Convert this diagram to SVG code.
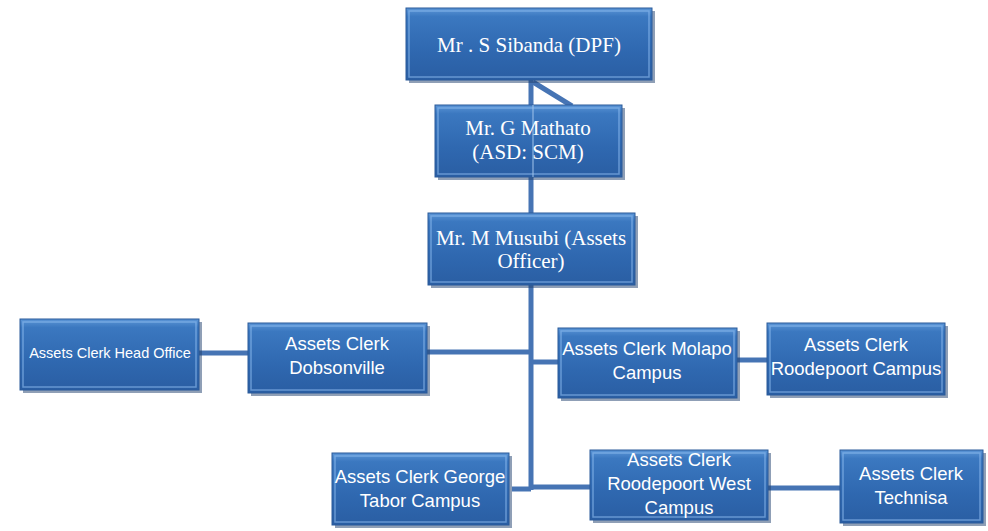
<svg xmlns="http://www.w3.org/2000/svg" width="988" height="531" viewBox="0 0 988 531">
<defs>
<linearGradient id="g" x1="0" y1="0" x2="0" y2="1">
<stop offset="0" stop-color="#5b95d6"/>
<stop offset="0.12" stop-color="#3b78c0"/>
<stop offset="0.6" stop-color="#2f68b0"/>
<stop offset="1" stop-color="#2a5ea3"/>
</linearGradient>
<style>
.box{fill:url(#g);stroke:#2a5b9a;stroke-width:1}
.sh{fill:#20406e;opacity:0.5}
.hl{fill:none;stroke:#8fbdf0;stroke-width:1.5;opacity:0.6}
.serif{font-family:"Liberation Serif","Times New Roman",serif;font-size:21px;fill:#fff;text-anchor:middle}
.sans{font-family:"Liberation Sans",Arial,sans-serif;font-size:18.5px;fill:#fff;text-anchor:middle}
.small{font-family:"Liberation Sans",Arial,sans-serif;font-size:14.5px;fill:#fff;text-anchor:middle}
.ln{stroke:#4674b4;stroke-width:5;fill:none}
</style>
</defs>
<rect width="988" height="531" fill="#fff"/>
<g id="connectors">
<line class="ln" x1="531" y1="80" x2="531" y2="490"/>
<line class="ln" x1="533" y1="82" x2="572" y2="106" stroke-width="4"/>
<line class="ln" x1="199" y1="353" x2="248" y2="353"/>
<line class="ln" x1="427" y1="352" x2="531" y2="352"/>
<line class="ln" x1="531" y1="362" x2="558" y2="362"/>
<line class="ln" x1="737" y1="360" x2="767" y2="360"/>
<line class="ln" x1="512" y1="489" x2="531" y2="489"/>
<line class="ln" x1="531" y1="487" x2="590" y2="487"/>
<line class="ln" x1="768" y1="488" x2="840" y2="488"/>
</g>
<g id="n1">
<rect class="sh" x="409" y="11" width="246" height="72"/>
<rect class="box" x="406" y="8" width="246" height="72"/>
<rect class="hl" x="409" y="11" width="240" height="66"/>
<text class="serif" x="529" y="52">Mr . S Sibanda (DPF)</text>
</g>
<g id="n2">
<rect class="sh" x="438" y="108" width="187" height="72"/>
<rect class="box" x="435" y="105" width="187" height="72"/>
<rect class="hl" x="438" y="108" width="181" height="66"/>
<line x1="533" y1="105" x2="533" y2="177" stroke="#9cc0ea" stroke-width="1.5" opacity="0.7"/>
<text class="serif" x="528" y="135">Mr. G Mathato</text>
<text class="serif" x="528" y="159">(ASD: SCM)</text>
</g>
<g id="n3">
<rect class="sh" x="431" y="216" width="207" height="72"/>
<rect class="box" x="428" y="213" width="207" height="72"/>
<rect class="hl" x="431" y="216" width="201" height="66"/>
<text class="serif" x="531" y="245">Mr. M Musubi (Assets</text>
<text class="serif" x="531" y="268">Officer)</text>
</g>
<g id="n4">
<rect class="sh" x="23" y="322" width="179" height="71"/>
<rect class="box" x="20" y="319" width="179" height="71"/>
<rect class="hl" x="23" y="322" width="173" height="65"/>
<text class="small" x="110" y="358">Assets Clerk Head Office</text>
</g>
<g id="n5">
<rect class="sh" x="251" y="326" width="179" height="70"/>
<rect class="box" x="248" y="323" width="179" height="70"/>
<rect class="hl" x="251" y="326" width="173" height="64"/>
<text class="sans" x="337" y="350">Assets Clerk</text>
<text class="sans" x="337" y="374">Dobsonville</text>
</g>
<g id="n6">
<rect class="sh" x="561" y="331" width="179" height="70"/>
<rect class="box" x="558" y="328" width="179" height="70"/>
<rect class="hl" x="561" y="331" width="173" height="64"/>
<text class="sans" x="647" y="355">Assets Clerk Molapo</text>
<text class="sans" x="647" y="379">Campus</text>
</g>
<g id="n7">
<rect class="sh" x="770" y="326" width="178" height="72"/>
<rect class="box" x="767" y="323" width="178" height="72"/>
<rect class="hl" x="770" y="326" width="172" height="66"/>
<text class="sans" x="856" y="351">Assets Clerk</text>
<text class="sans" x="856" y="375">Roodepoort Campus</text>
</g>
<g id="n8">
<rect class="sh" x="335" y="456" width="177" height="72"/>
<rect class="box" x="332" y="453" width="177" height="72"/>
<rect class="hl" x="335" y="456" width="171" height="66"/>
<text class="sans" x="420" y="483">Assets Clerk George</text>
<text class="sans" x="420" y="507">Tabor Campus</text>
</g>
<g id="n9">
<rect class="sh" x="593" y="453" width="178" height="70"/>
<rect class="box" x="590" y="450" width="178" height="70"/>
<rect class="hl" x="593" y="453" width="172" height="64"/>
<text class="sans" x="679" y="466">Assets Clerk</text>
<text class="sans" x="679" y="490">Roodepoort West</text>
<text class="sans" x="679" y="514">Campus</text>
</g>
<g id="n10">
<rect class="sh" x="843" y="453" width="143" height="73"/>
<rect class="box" x="840" y="450" width="143" height="73"/>
<rect class="hl" x="843" y="453" width="137" height="67"/>
<text class="sans" x="911" y="480">Assets Clerk</text>
<text class="sans" x="911" y="504">Technisa</text>
</g>
</svg>
